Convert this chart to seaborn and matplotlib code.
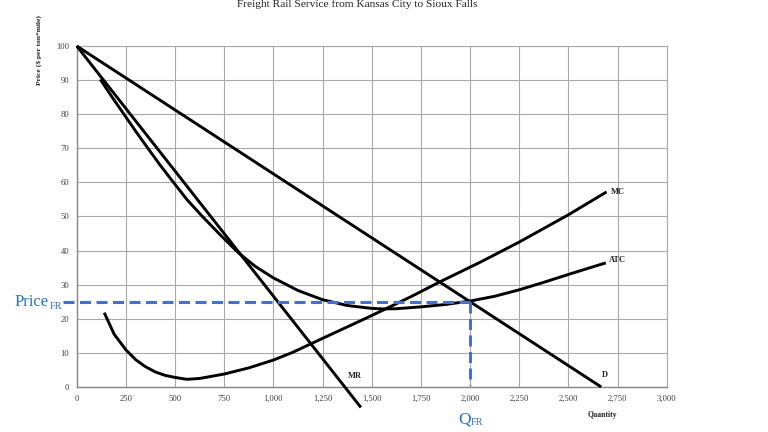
import numpy as np
import pandas as pd
import matplotlib
matplotlib.use("Agg")
import matplotlib.pyplot as plt
import seaborn as sns

# demand and marginal revenue (straight lines, end points)
d_q = [0, 2667]
d_p = [100, 0]
mr_q = [0, 1445]
mr_p = [100, -6]

# average total cost
atc_q = [120, 180, 240, 300, 362, 425, 492, 560, 636, 725, 823, 910, 1000, 1125,
         1250, 1375, 1500, 1560, 1625, 1750, 1875, 2000, 2125, 2250, 2375, 2500,
         2600, 2690]
atc_p = [90.2, 85.0, 80.0, 75.0, 70.0, 65.0, 60.0, 55.0, 50.2, 44.9, 39.3, 35.3,
         32.0, 28.3, 25.6, 23.9, 23.05, 22.9, 22.95, 23.5, 24.2, 25.2, 26.6, 28.5,
         30.7, 33.0, 34.8, 36.4]

# marginal cost
mc_q = [140, 190, 250, 300, 348, 400, 450, 500, 560, 625, 750, 875, 1000, 1100,
        1196, 1315, 1450, 1560, 1700, 1849, 2052, 2250, 2500, 2694]
mc_p = [21.8, 15.5, 10.9, 8.0, 6.0, 4.4, 3.4, 2.8, 2.25, 2.5, 3.8, 5.6, 7.9, 10.2,
        12.8, 16.0, 19.6, 22.6, 26.5, 30.9, 36.6, 42.5, 50.5, 57.2]

price_fr = 25
q_fr = 2000

x_ticks = list(range(0, 3001, 250))
y_ticks = list(range(0, 101, 10))

sns.set_theme(style="white")
plt.rcParams['font.family'] = ['Liberation Serif', 'DejaVu Serif']

fig = plt.figure(figsize=(7.68, 4.32), dpi=100)
ax = fig.add_axes([0.0999, 0.1042, 0.7682, 0.7893])

grid_col = "#a8a8a8"
blue = "#4472C4"
txt_blue = "#2E75B6"

curves = {
    "D": (d_q, d_p),
    "MR": (mr_q, mr_p),
    "ATC": (atc_q, atc_p),
    "MC": (mc_q, mc_p),
}
for name, (qs, ps) in curves.items():
    df = pd.DataFrame({"Quantity": qs, "Price": ps})
    sns.lineplot(data=df, x="Quantity", y="Price", ax=ax, color="black",
                 linewidth=2.1, estimator=None, sort=False, clip_on=False,
                 solid_capstyle="butt", solid_joinstyle="round", zorder=3)

# price / quantity guide lines
ax.plot([-70, q_fr], [price_fr, price_fr], color=blue, lw=2.2,
        dashes=(3.6, 1.8), clip_on=False, zorder=4)
ax.plot([q_fr, q_fr], [price_fr, 0.5], color=blue, lw=2.2,
        dashes=(3.6, 1.8), clip_on=False, zorder=4)

ax.set_xlim(0, 3000)
ax.set_ylim(0, 100)
ax.set_xticks(x_ticks)
ax.set_yticks(y_ticks)
ax.set_xticklabels([f"{t:,}" for t in x_ticks])
ax.set_yticklabels([str(t) for t in y_ticks])
ax.tick_params(axis="both", labelsize=6.2, colors="#404040", length=2.5,
               width=0.8, direction="out", pad=3)
ax.tick_params(axis="both", color="#868686")
ax.grid(True, color=grid_col, linewidth=0.8)
ax.set_axisbelow(True)
for side in ["top", "right"]:
    ax.spines[side].set_color(grid_col)
    ax.spines[side].set_linewidth(0.8)
for side in ["left", "bottom"]:
    ax.spines[side].set_color("#868686")
    ax.spines[side].set_linewidth(1.0)
ax.set_xlabel("")
ax.set_ylabel("")

# curve labels
lab = dict(fontsize=6, fontweight="bold", color="#222222", va="center", ha="left")
ax.text(2714, 57.1, "MC", **lab)
ax.text(2704, 37.2, "ATC", **lab)
ax.text(2670, 3.5, "D", **lab)
ax.text(1377, 3.2, "MR", **lab)

W, H = 768, 432
fig.text(357 / W, 1 - 4 / H, "Freight Rail Service from Kansas City to Sioux Falls",
         ha="center", va="center", fontsize=8.2, color="#222222")
fig.text(39 / W, 1 - 50 / H, "Price ($ per ton*mile)", rotation=90,
         ha="center", va="center", fontsize=5.4, fontweight="bold", color="#222222")
fig.text(602.5 / W, 1 - 415 / H, "Quantity", ha="center", va="center",
         fontsize=5.6, fontweight="bold", color="#222222")

# Price_FR and Q_FR labels
fig.text(15 / W, 1 - 306 / H, "Price", ha="left", va="baseline",
         fontsize=12, color=txt_blue)
fig.text(49.5 / W, 1 - 309 / H, "FR", ha="left", va="baseline",
         fontsize=7.5, color=txt_blue)
fig.text(458 / W, 1 - 423 / H, "Q", ha="left", va="baseline",
         fontsize=12.5, color=txt_blue)
fig.text(471 / W, 1 - 425 / H, "FR", ha="left", va="baseline",
         fontsize=7.5, color=txt_blue)

fig.savefig("out.png", dpi=100)
